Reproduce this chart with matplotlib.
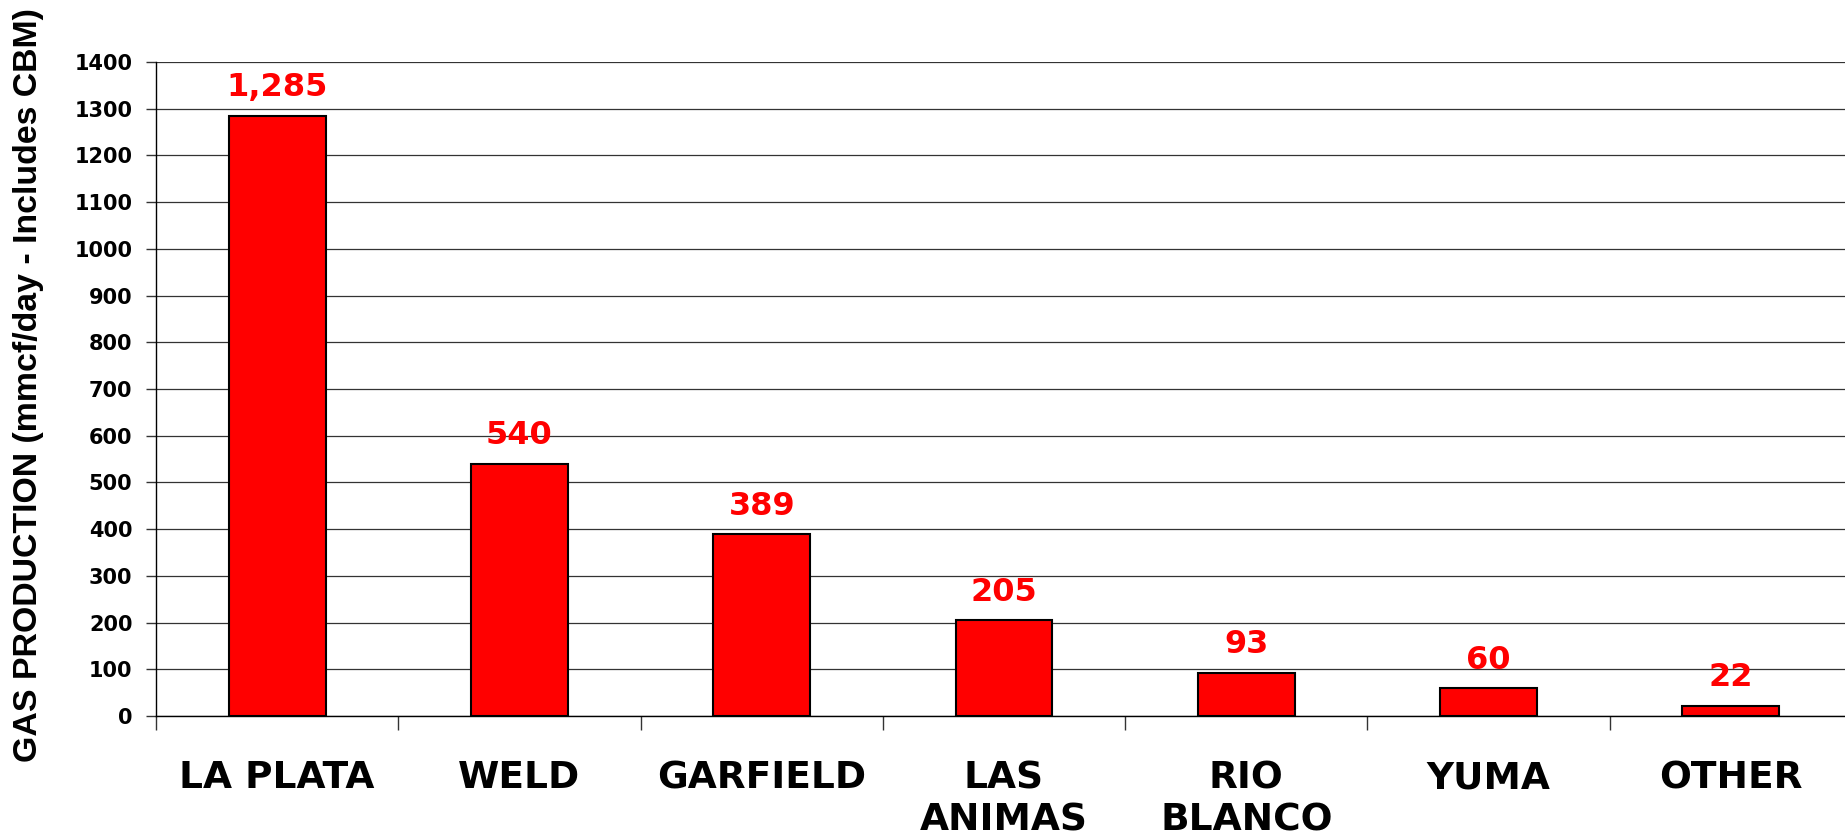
import matplotlib
matplotlib.use("Agg")
import matplotlib.pyplot as plt
import numpy as np

# Colorado gas production by county (mmcf/day)
counties = ["LA PLATA", "WELD", "GARFIELD", "LAS\nANIMAS", "RIO\nBLANCO", "YUMA", "OTHER"]
production = [1285, 540, 389, 205, 93, 60, 22]
value_labels = ["1,285", "540", "389", "205", "93", "60", "22"]
yticks = np.arange(0, 1500, 100)

# wide bold face for horizontal text, Arial-like for the rotated title
plt.rcParams['font.family'] = ['DejaVu Sans']
plt.rcParams['font.weight'] = 'bold'

fig = plt.figure(figsize=(18.45, 8.38), dpi=100)
ax = fig.add_axes([156/1845, 122/838, (1852-156)/1845, 654/838])

x = np.arange(len(counties))
ax.bar(x, production, width=0.4, color='#ff0000', edgecolor='black', linewidth=1.5, zorder=3)

for xi, v, lab in zip(x, production, value_labels):
    ax.annotate(lab, (xi, v), xytext=(0, 14), textcoords='offset points',
                ha='center', va='baseline', color='#ff0000',
                fontsize=23, fontweight='bold', zorder=4)

ax.set_xlim(-0.5, len(counties) - 0.5)
ax.set_ylim(0, 1400)
ax.set_yticks(yticks)
ax.set_yticklabels([str(t) for t in yticks], fontsize=15, fontweight='bold')
ax.yaxis.grid(True, color='#333333', linewidth=0.9, zorder=0)
ax.set_axisbelow(True)

# category labels at bar centres, tick marks at boundaries
ax.set_xticks(x)
ax.set_xticklabels(counties, fontsize=27, fontweight='bold', linespacing=1.2)
ax.set_xticks(np.arange(len(counties) + 1) - 0.5, minor=True)
ax.tick_params(axis='x', which='major', length=0, pad=32)
ax.tick_params(axis='x', which='minor', length=10, width=1.0, color='#333333')
ax.tick_params(axis='y', length=7, width=1.0, pad=10, color='#333333')

for s in ['top', 'right']:
    ax.spines[s].set_visible(False)
ax.spines['left'].set_color('black')
ax.spines['bottom'].set_color('black')
ax.spines['left'].set_linewidth(1.0)
ax.spines['bottom'].set_linewidth(1.0)

fig.text(29/1845, 1 - 385/838, "GAS PRODUCTION (mmcf/day - Includes CBM)",
         rotation=90, ha='center', va='center', fontsize=24.4, fontweight='bold',
         family=['Liberation Sans', 'DejaVu Sans'])

fig.savefig("out.png", dpi=100)
